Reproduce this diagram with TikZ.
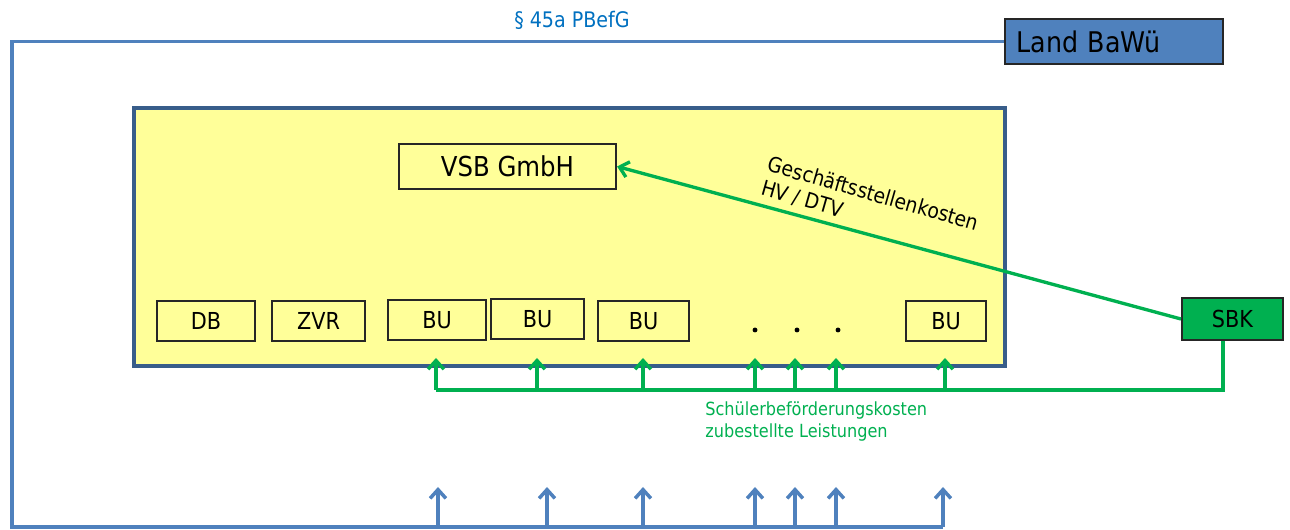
\documentclass[tikz,border=0pt]{standalone}
\usepackage{fontspec}
\setmainfont{DejaVu Sans}[FakeStretch=0.89]
\usetikzlibrary{arrows.meta,positioning,calc}
\definecolor{lineblue}{RGB}{79,129,189}
\definecolor{textblue}{RGB}{0,112,192}
\definecolor{darkblue}{RGB}{56,93,138}
\definecolor{sbkgreen}{RGB}{0,176,80}
\definecolor{paleyellow}{RGB}{255,255,153}
\tikzset{
  box/.style={draw=black!85, line width=1.2pt, inner sep=0pt, minimum height=0.8cm, font=\fontsize{13.3}{15}\selectfont},
  bigbox/.style={box, minimum height=0.9cm, font=\fontsize{15.6}{18}\selectfont},
  paid/.style={draw=sbkgreen, line width=1.9pt},
  law/.style={draw=lineblue, line width=2pt},
  >={Straight Barb[length=5pt,width=9pt]}
}
\begin{document}
\begin{tikzpicture}
\useasboundingbox (0,0) rectangle (25.8,10.6);
% Verbund
\node[draw=darkblue, line width=2pt, fill=paleyellow, minimum width=17.42cm, minimum height=5.16cm, inner sep=0pt] (vvs) at (11.39,5.86) {};
\node[bigbox, minimum width=4.34cm] (vsb) at (10.15,7.27) {VSB GmbH};
\node[box, minimum width=1.96cm] (db) at (4.12,4.18) {DB};
\node[box, minimum width=1.86cm] (zvr) at (6.37,4.18) {ZVR};
\node[box, minimum width=1.96cm] (bu1) at (8.74,4.2) {BU};
\node[box, minimum width=1.86cm] (bu2) at (10.75,4.22) {BU};
\node[box, minimum width=1.82cm] (bu3) at (12.87,4.18) {BU};
\node[box, minimum width=1.6cm] (bu4) at (18.92,4.18) {BU};
\foreach \x [count=\i] in {15.1,15.94,16.76}
  \node[circle, fill, inner sep=0pt, minimum size=2.8pt] (dot\i) at (\x,4.0) {};
% Land
\node[bigbox, fill=lineblue, minimum width=4.36cm, text width=3.9cm, align=left, font=\fontsize{16.2}{18}\selectfont] (land) at (22.28,9.77) {Land BaWü};
\node[text=textblue, font=\fontsize{12.2}{14}\selectfont] (pbefg) at (11.44,10.2) {\S~45a PBefG};
\coordinate (ll) at (0.24,0.06);
\foreach \x [count=\i] in {8.76,10.94,12.86,15.1,15.9,16.72,18.86} {
  \coordinate (b\i) at (\x,0.06);
  \coordinate (t\i) at (\x,0.86);
  \draw[law,->] (b\i) -- (t\i);
}
\draw[law] (land.west) -| (ll) -- (b7);
% SBK
\node[box, fill=sbkgreen, minimum width=2.02cm, minimum height=0.84cm] (sbk) at (24.65,4.22) {SBK};
\draw[paid,->] (sbk.west) -- (vsb.east);
\node[font=\fontsize{12}{14}\selectfont, rotate=-16, align=left, inner sep=0pt, anchor=north west] (gsk) at (15.42,7.5) {Geschäftsstellenkosten\\HV / DTV};
\foreach \x [count=\i] in {8.72,10.74,12.86,15.1,15.9,16.72,18.9} {
  \coordinate (g\i) at (\x,2.8);
  \coordinate (h\i) at (\x,3.44);
  \draw[paid,->] (g\i) -- (h\i);
}
\draw[paid] ([xshift=-0.19cm]sbk.south) |- (g1);
\node[text=sbkgreen, font=\fontsize{10.3}{13}\selectfont, align=left, anchor=west, inner sep=0pt] (sbf) at (14.1,2.17) {Schülerbeförderungskosten\\zubestellte Leistungen};
\end{tikzpicture}
\end{document}
